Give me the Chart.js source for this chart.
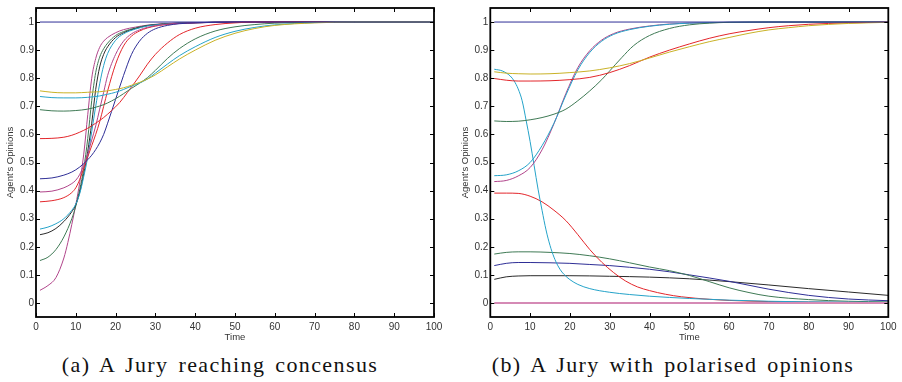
<!DOCTYPE html>
<html>
<head>
<meta charset="utf-8">
<script src="https://cdn.jsdelivr.net/npm/chart.js@4.4.1/dist/chart.umd.min.js"></script>
<style>
  body { margin: 0; background: #fff; width: 902px; height: 382px; overflow: hidden; position: relative; }
  .box { position: absolute; top: 0; width: 451px; height: 345px; }
  .caption { position: absolute; top: 352px; width: 500px; text-align: center;
    font-family: "Liberation Serif", serif; font-size: 22px; color: #111;
    letter-spacing: 1.4px; word-spacing: 3px; white-space: nowrap; }
</style>
</head>
<body>
<div class="box" style="left:0"><canvas id="chartA"></canvas></div>
<div class="box" style="left:451px"><canvas id="chartB"></canvas></div>
<div class="caption" style="left:-30px">(a) A Jury reaching concensus</div>
<div class="caption" style="left:423px">(b) A Jury with polarised opinions</div>
<script>
// axis ticks
const xTicks = [0, 10, 20, 30, 40, 50, 60, 70, 80, 90, 100];
const yTicks = [0, 0.1, 0.2, 0.3, 0.4, 0.5, 0.6, 0.7, 0.8, 0.9, 1];

// (a) jury reaching concensus  -- [time, opinion]
const aNavyTop = [[1, 1], [100, 1]];
const aYellow = [[1,0.755],[4,0.75],[7,0.748],[10,0.748],[13,0.75],[16,0.752],[18,0.755],[20,0.76],[22,0.766],[24,0.775],[26,0.785],[28,0.797],[30,0.812],[33,0.84],[36,0.868],[40,0.9],[45,0.935],[50,0.96],[55,0.977],[60,0.988],[70,0.997],[80,1],[100,1]];
const aCyan = [[1,0.735],[4,0.731],[7,0.73],[10,0.73],[13,0.732],[16,0.737],[18,0.743],[20,0.75],[22,0.76],[24,0.772],[26,0.783],[28,0.797],[30,0.818],[33,0.85],[36,0.88],[40,0.912],[45,0.945],[50,0.967],[55,0.981],[60,0.99],[70,0.998],[80,1],[100,1]];
const aGreen = [[1,0.688],[4,0.684],[7,0.683],[10,0.685],[13,0.69],[16,0.701],[18,0.712],[20,0.727],[22,0.745],[24,0.764],[26,0.782],[28,0.802],[30,0.828],[33,0.87],[36,0.905],[40,0.94],[45,0.968],[50,0.983],[55,0.991],[60,0.996],[70,0.999],[80,1],[100,1]];
const aRedSlow = [[1,0.585],[4,0.586],[7,0.59],[9,0.597],[11,0.608],[13,0.622],[15,0.64],[17,0.66],[19,0.685],[21,0.713],[23,0.75],[26,0.808],[28,0.85],[30,0.885],[33,0.925],[36,0.955],[40,0.978],[45,0.991],[50,0.997],[55,1],[100,1]];
const aMagentaLow = [[1,0.045],[3,0.062],[5,0.09],[7,0.16],[8,0.215],[9,0.28],[10,0.35],[11,0.43],[12,0.53],[13,0.67],[14,0.8],[15,0.87],[16,0.91],[17,0.932],[18,0.945],[20,0.962],[22,0.973],[25,0.982],[28,0.989],[32,0.994],[36,0.997],[45,0.999],[55,1],[100,1]];
const aGreenLow = [[1,0.151],[3,0.163],[5,0.19],[7,0.235],[9,0.3],[10,0.345],[11,0.405],[12,0.48],[13,0.585],[14,0.72],[15,0.82],[16,0.875],[17,0.905],[18,0.925],[20,0.952],[22,0.966],[25,0.979],[28,0.988],[32,0.993],[36,0.996],[45,0.999],[55,1],[100,1]];
const aBlack = [[1,0.243],[3,0.25],[5,0.265],[7,0.29],[9,0.325],[10,0.35],[11,0.395],[12,0.46],[13,0.54],[14,0.64],[15,0.76],[16,0.84],[17,0.885],[18,0.912],[20,0.945],[22,0.962],[25,0.977],[28,0.987],[32,0.993],[36,0.996],[45,0.999],[55,1],[100,1]];
const aCyanLow = [[1,0.263],[3,0.27],[5,0.282],[7,0.3],[9,0.33],[10,0.352],[11,0.39],[12,0.45],[13,0.52],[14,0.61],[15,0.7],[16,0.78],[17,0.845],[18,0.888],[20,0.935],[22,0.958],[25,0.975],[28,0.986],[32,0.992],[36,0.996],[45,0.999],[55,1],[100,1]];
const aRedSteep = [[1,0.36],[4,0.364],[7,0.375],[9,0.393],[10,0.41],[11,0.44],[12,0.48],[13,0.52],[14,0.56],[15,0.6],[16,0.645],[17,0.7],[18,0.755],[20,0.85],[22,0.915],[24,0.95],[26,0.968],[28,0.979],[32,0.99],[36,0.995],[45,0.999],[55,1],[100,1]];
const aMagentaMid = [[1,0.395],[4,0.398],[7,0.41],[9,0.425],[10,0.437],[11,0.458],[12,0.49],[13,0.53],[14,0.58],[15,0.63],[16,0.69],[17,0.75],[18,0.81],[20,0.885],[22,0.932],[24,0.958],[26,0.972],[28,0.981],[32,0.991],[36,0.995],[45,0.999],[55,1],[100,1]];
const aNavyMid = [[1,0.442],[4,0.445],[7,0.455],[9,0.466],[10,0.474],[11,0.484],[12,0.496],[13,0.51],[14,0.526],[15,0.546],[16,0.57],[17,0.6],[18,0.64],[20,0.725],[22,0.81],[24,0.885],[26,0.932],[28,0.96],[30,0.976],[33,0.988],[36,0.994],[40,0.997],[45,0.999],[55,1],[100,1]];

// (b) jury with polarised opinions
const bNavyTop = [[1, 1], [100, 1]];
const bPinkZero = [[1, 0], [100, 0]];
const bYellow = [[1,0.823],[4,0.818],[7,0.816],[10,0.815],[15,0.816],[20,0.82],[25,0.826],[30,0.837],[35,0.852],[40,0.872],[45,0.893],[50,0.912],[55,0.93],[60,0.945],[65,0.96],[70,0.972],[75,0.98],[80,0.987],[90,0.995],[100,0.999]];
const bRed = [[1,0.799],[4,0.793],[7,0.79],[10,0.79],[15,0.791],[20,0.795],[25,0.803],[30,0.82],[35,0.845],[40,0.875],[45,0.9],[50,0.922],[55,0.942],[60,0.958],[65,0.97],[70,0.98],[75,0.987],[80,0.992],[90,0.997],[100,1]];
const bGreen = [[1,0.648],[4,0.646],[7,0.647],[10,0.652],[13,0.66],[16,0.672],[19,0.69],[22,0.72],[25,0.755],[28,0.795],[30,0.826],[33,0.873],[36,0.916],[40,0.952],[45,0.977],[50,0.99],[55,0.996],[60,0.999],[70,1],[100,1]];
const bCyanUp = [[1,0.453],[4,0.456],[7,0.47],[10,0.5],[13,0.56],[16,0.64],[19,0.74],[22,0.83],[25,0.892],[28,0.932],[31,0.956],[35,0.973],[40,0.985],[45,0.992],[50,0.996],[60,0.999],[70,1],[100,1]];
const bMagentaUp = [[1,0.432],[4,0.436],[7,0.452],[10,0.482],[13,0.545],[16,0.638],[19,0.746],[22,0.838],[25,0.898],[28,0.936],[31,0.959],[35,0.975],[40,0.986],[45,0.993],[50,0.996],[60,0.999],[70,1],[100,1]];
const bCyanDown = [[1,0.832],[3,0.826],[5,0.808],[6,0.79],[7,0.762],[8,0.72],[9,0.65],[10,0.575],[11,0.49],[12,0.405],[13,0.33],[14,0.26],[15,0.205],[16,0.163],[17,0.132],[18,0.11],[19,0.095],[20,0.083],[22,0.066],[25,0.051],[30,0.038],[35,0.03],[40,0.024],[50,0.016],[60,0.01],[70,0.006],[80,0.004],[100,0.002]];
const bRedDown = [[1,0.391],[4,0.391],[7,0.39],[10,0.38],[13,0.36],[16,0.33],[19,0.293],[22,0.243],[25,0.19],[28,0.145],[31,0.108],[34,0.078],[37,0.057],[40,0.044],[44,0.031],[48,0.022],[55,0.013],[60,0.009],[70,0.005],[80,0.003],[100,0.001]];
const bGreenLow = [[1,0.174],[4,0.18],[7,0.182],[10,0.182],[15,0.18],[20,0.176],[25,0.168],[30,0.157],[35,0.143],[40,0.128],[45,0.115],[50,0.098],[55,0.076],[60,0.054],[65,0.037],[70,0.024],[80,0.012],[90,0.006],[100,0.004]];
const bNavyLow = [[1,0.133],[4,0.141],[7,0.144],[10,0.144],[15,0.143],[20,0.141],[25,0.137],[30,0.133],[35,0.127],[40,0.12],[45,0.111],[50,0.1],[55,0.089],[60,0.077],[65,0.063],[70,0.049],[80,0.027],[90,0.014],[100,0.008]];
const bBlackLow = [[1,0.084],[4,0.093],[7,0.096],[10,0.097],[20,0.097],[30,0.095],[40,0.092],[50,0.086],[60,0.076],[70,0.064],[80,0.051],[90,0.039],[100,0.027]];

const NAVY = "#2e2e96", YELLOW = "#c9b227", CYAN = "#25a3c9", GREEN = "#3f7a55",
      RED = "#e3262b", MAGENTA = "#b0448a", BLACK = "#2a2a2a", PINK = "#d58ab5";

function line(points, color, width) {
  return {
    data: points.map((p) => ({ x: p[0], y: p[1] })),
    borderColor: color,
    borderWidth: width || 1,
    pointRadius: 0,
    fill: false,
    cubicInterpolationMode: "monotone",
  };
}

// box round the plot and ticks pointing inwards on all four sides
const frameTicks = {
  id: "frameTicks",
  afterDatasetsDraw(chart) {
    const { ctx, chartArea: a, scales: { x, y } } = chart;
    ctx.save();
    ctx.strokeStyle = "#000";
    ctx.lineWidth = 1;
    ctx.beginPath();
    xTicks.forEach((v) => {
      const px = Math.round(x.getPixelForValue(v)) + 0.5;
      ctx.moveTo(px, a.bottom); ctx.lineTo(px, a.bottom - 4);
      ctx.moveTo(px, a.top); ctx.lineTo(px, a.top + 4);
    });
    yTicks.forEach((v) => {
      const py = Math.round(y.getPixelForValue(v)) + 0.5;
      ctx.moveTo(a.left, py); ctx.lineTo(a.left + 4, py);
      ctx.moveTo(a.right, py); ctx.lineTo(a.right - 4, py);
    });
    ctx.stroke();
    ctx.lineWidth = 1.8;
    ctx.strokeRect(a.left, a.top, a.right - a.left, a.bottom - a.top);
    ctx.restore();
  },
};

function makeOptions(yWidth, titlePad, padRight) {
  const tickFont = { family: "'Liberation Sans', Arial, sans-serif", size: 10 };
  return {
    responsive: true,
    maintainAspectRatio: false,
    animation: false,
    events: [],
    layout: { padding: { left: 0, top: 4.5, right: padRight, bottom: 0 } },
    plugins: { legend: { display: false }, tooltip: { enabled: false } },
    scales: {
      x: {
        type: "linear",
        min: 0,
        max: 100,
        afterBuildTicks: (s) => { s.ticks = xTicks.map((v) => ({ value: v })); },
        afterFit: (s) => { s.height = 28; },
        grid: { display: false, drawTicks: false },
        border: { display: false },
        ticks: { color: "#333", font: tickFont, padding: 4, maxRotation: 0, autoSkip: false },
        title: { display: true, text: "Time", color: "#333",
          font: { family: "'Liberation Sans', Arial, sans-serif", size: 9.5 }, padding: { top: 0, bottom: 2 } },
      },
      y: {
        type: "linear",
        min: -0.05,
        max: 1.05,
        afterBuildTicks: (s) => { s.ticks = yTicks.map((v) => ({ value: v })); },
        afterFit: (s) => { s.width = yWidth; },
        grid: { display: false, drawTicks: false },
        border: { display: false },
        ticks: { color: "#333", font: tickFont, padding: 2, autoSkip: false,
          callback: (v) => String(parseFloat(v.toFixed(2))) },
        title: { display: true, text: "Agent's Opinions", color: "#333",
          font: { family: "'Liberation Sans', Arial, sans-serif", size: 9.5 }, padding: { top: titlePad, bottom: 0 } },
      },
    },
  };
}

new Chart(document.getElementById("chartA"), {
  type: "line",
  data: {
    datasets: [
      line(aNavyTop, NAVY),
      line(aYellow, YELLOW),
      line(aCyan, CYAN),
      line(aGreen, GREEN),
      line(aRedSlow, RED),
      line(aNavyMid, NAVY),
      line(aMagentaMid, MAGENTA),
      line(aRedSteep, RED),
      line(aCyanLow, CYAN),
      line(aBlack, BLACK),
      line(aGreenLow, GREEN),
      line(aMagentaLow, MAGENTA),
    ],
  },
  options: makeOptions(36, 4.3, 17),
  plugins: [frameTicks],
});

new Chart(document.getElementById("chartB"), {
  type: "line",
  data: {
    datasets: [
      line(bPinkZero, PINK, 2),
      line(bNavyTop, NAVY),
      line(bYellow, YELLOW),
      line(bRed, RED),
      line(bGreen, GREEN),
      line(bCyanUp, CYAN),
      line(bMagentaUp, MAGENTA),
      line(bCyanDown, CYAN),
      line(bRedDown, RED),
      line(bGreenLow, GREEN),
      line(bNavyLow, NAVY),
      line(bBlackLow, BLACK),
    ],
  },
  options: makeOptions(39.3, 8.3, 13.7),
  plugins: [frameTicks],
});
</script>
</body>
</html>
